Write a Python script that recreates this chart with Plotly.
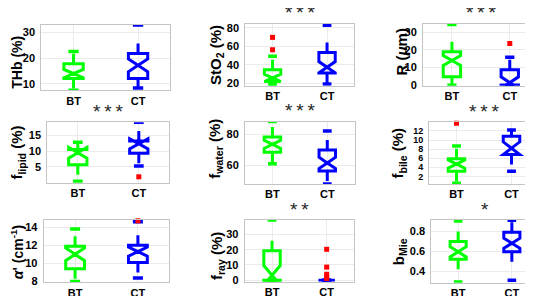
import plotly.graph_objects as go

# ---------------- data ----------------
groups = ["BT", "CT"]
titles = ["THb (%)", "StO<sub>2</sub> (%)", "R (<i>μ</i>m)",
          "f<sub>lipid</sub> (%)", "f<sub>water</sub> (%)", "f<sub>bile</sub> (%)",
          "<i>α</i>' (cm<sup>-1</sup>)", "f<sub>ray</sub> (%)", "b<sub>Mie</sub>"]
stars = ["", "***", "***", "***", "***", "***", "", "**", "*"]

bt_q1 = [12.1, 22.0, 4.8, 5.7, 68.4, 3.1, 9.4, 0.0, 0.522]
bt_med = [14.0, 26.0, 14.0, 9.5, 73.5, 4.7, 11.0, 3.2, 0.595]
bt_q3 = [17.8, 34.8, 19.0, 10.5, 78.3, 5.9, 11.9, 19.3, 0.698]
bt_ns = [1.6, 4.0, 2.8, 1.7, 2.6, 0.9, 0.7, 6.4, 0.05]
bt_lo = [7.5, 19.0, 0.0, 0.5, 61.0, 0.5, 8.0, 0.0, 0.298]
bt_hi = [22.6, 49.3, 34.4, 12.8, 88.2, 8.7, 13.8, 39.6, 0.90]
bt_out = [[], [56.4, 69.8], [], [], [], [13.7], [], [], []]

ct_q1 = [12.1, 31.3, 0.2, 9.3, 56.2, 6.8, 10.1, 0.0, 0.595]
ct_med = [17.2, 37.6, 1.5, 12.3, 61.5, 8.2, 11.3, 0.0, 0.68]
ct_q3 = [21.8, 53.5, 8.8, 13.2, 69.9, 10.8, 12.0, 0.0, 0.787]
ct_ns = [2.5, 6.0, 3.3, 1.6, 3.7, 1.4, 0.5, 0.0, 0.05]
ct_lo = [8.4, 19.5, 0.0, 5.3, 47.8, 3.1, 8.4, 0.0, 0.314]
ct_hi = [32.9, 83.0, 15.8, 19.1, 82.1, 12.2, 14.6, 0.0, 0.906]
ct_out = [[], [], [23.6], [1.9], [], [], [14.7], [1.1, 2.1, 3.9, 8.6, 20.3], []]

y_ranges = [[7.5, 33], [17.6, 84.6], [-0.3, 34.8], [0, 19.1], [47.8, 88.2],
            [0.3, 13.9], [7.9, 14.8], [-1, 39.6], [0.29, 0.91]]
y_ticks = [[10, 20, 30], [20, 40, 60, 80], [0, 10, 20, 30], [5, 10, 15], [60, 80],
           [2, 4, 6, 8, 10, 12], [8, 10, 12, 14], [0, 10, 20, 30], [0.4, 0.6, 0.8]]

# ---------------- layout geometry (pixels) ----------------
W, H = 533, 296
frames = [(33.3, 162.3, 15, 82.3), (237.3, 346.3, 14, 77.5), (415, 530.7, 14, 77.7),
          (39.3, 161.3, 115, 177), (237, 346.7, 114.3, 178.3), (421, 531, 115, 178.3),
          (35.7, 161.3, 215, 279), (236.7, 346, 215, 278.3), (423.3, 530.7, 215, 279.3)]
title_pos = [(9, 54, 14), (209, 46, 15), (393, 43.5, 15),
             (10, 146, 15), (208, 142, 15), (391, 147, 15),
             (9, 248, 14), (209, 252, 15), (391.5, 247.5, 15)]
tick_sizes = [11, 11, 11, 11, 11, 9, 11, 11, 11]

colors = ["#00ff00", "#0000ff"]
GRID = "#ebebeb"
FRAME = "#c4c4c4"
FONT = "Liberation Sans"

fig = go.Figure()
annotations = []
layout = dict(width=W, height=H, margin=dict(l=0, r=0, t=0, b=0),
              paper_bgcolor="white", plot_bgcolor="white", showlegend=False)

cap_half = 0.08
for i in range(9):
    k = "" if i == 0 else str(i + 1)
    xa, ya = "x" + k, "y" + k
    L, R, T, B = frames[i]
    layout["xaxis" + k] = dict(
        domain=[L / W, R / W], anchor=ya, range=[0.5, 2.5],
        tickvals=[1, 2], ticktext=groups, ticks="",
        tickfont=dict(family=FONT, size=11, color="black", weight="bold"),
        showgrid=True, gridcolor=GRID, gridwidth=1, zeroline=False,
        showline=True, linecolor=FRAME, linewidth=1, mirror=True, fixedrange=True)
    layout["yaxis" + k] = dict(
        domain=[1 - B / H, 1 - T / H], anchor=xa, range=y_ranges[i],
        tickvals=y_ticks[i], ticks="", ticklabelstandoff=3,
        tickfont=dict(family=FONT, size=tick_sizes[i], color="black", weight="bold"),
        showgrid=True, gridcolor=GRID, gridwidth=1, zeroline=False,
        showline=True, linecolor=FRAME, linewidth=1, mirror=True, fixedrange=True)

    stats = [
        (bt_q1[i], bt_med[i], bt_q3[i], bt_ns[i], bt_lo[i], bt_hi[i], bt_out[i]),
        (ct_q1[i], ct_med[i], ct_q3[i], ct_ns[i], ct_lo[i], ct_hi[i], ct_out[i]),
    ]
    for g, (q1, med, q3, ns, lo, hi, out) in enumerate(stats):
        pos = g + 1
        col = colors[g]
        # whiskers (dashed, as in MATLAB)
        for a, b in ((q3, hi), (q1, lo)):
            fig.add_trace(go.Scatter(
                x=[pos, pos], y=[a, b], mode="lines", xaxis=xa, yaxis=ya,
                line=dict(color=col, width=3, dash="10px,24px"), hoverinfo="skip"))
        # caps (adjacent values)
        for v in (hi, lo):
            fig.add_trace(go.Scatter(
                x=[pos - cap_half, pos + cap_half], y=[v, v], mode="lines",
                xaxis=xa, yaxis=ya, cliponaxis=False,
                line=dict(color=col, width=3.5), hoverinfo="skip"))
        # notched box
        fig.add_trace(go.Box(
            x=[pos], q1=[q1], median=[med], q3=[q3], lowerfence=[q1], upperfence=[q3],
            notchspan=[ns], notched=True, notchwidth=0.5, width=0.3,
            whiskerwidth=0, boxpoints=False, xaxis=xa, yaxis=ya,
            line=dict(color=col, width=3), fillcolor="rgba(0,0,0,0)"))
        # outliers
        if out:
            fig.add_trace(go.Scatter(
                x=[pos] * len(out), y=out, mode="markers", xaxis=xa, yaxis=ya,
                cliponaxis=False,
                marker=dict(color="#ff0000", size=5, symbol="square"), hoverinfo="skip"))

    # y-axis title
    tx, ty, ts = title_pos[i]
    annotations.append(dict(
        text="<b>" + titles[i] + "</b>", xref="paper", yref="paper",
        x=tx / W, y=1 - ty / H, xanchor="center", yanchor="middle",
        textangle=-90, showarrow=False,
        font=dict(family=FONT, size=ts, color="black")))
    # significance stars
    if stars[i]:
        annotations.append(dict(
            text="\u2009".join(stars[i]), xref="paper", yref="paper",
            x=((L + R) / 2) / W, y=1 - (T - 11) / H, xanchor="center", yanchor="middle",
            showarrow=False, font=dict(family=FONT, size=19, color="#262626")))

layout["annotations"] = annotations
fig.update_layout(**layout)
fig.write_html("out.html")
